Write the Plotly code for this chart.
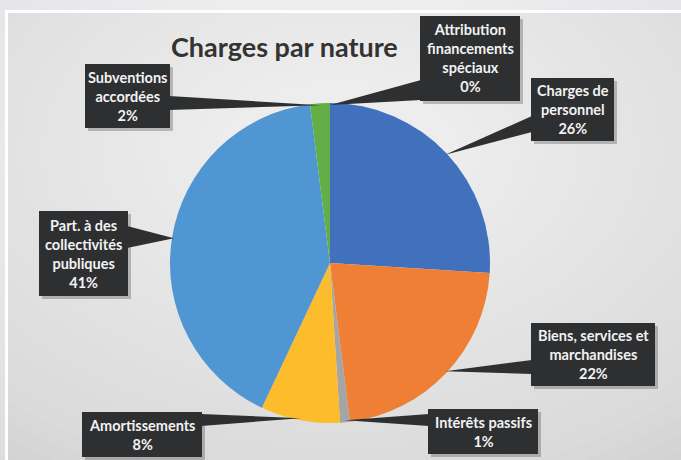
import math
import plotly.graph_objects as go

# ---- data ----
categories = ["Charges de personnel", "Biens, services et marchandises", "Intérêts passifs",
              "Amortissements", "Part. à des collectivités publiques", "Subventions accordées",
              "Attribution financements spéciaux"]
values = [26, 22, 1, 8, 41, 2, 0]
label_lines = [["Charges de", "personnel"], ["Biens, services et", "marchandises"], ["Intérêts passifs"],
               ["Amortissements"], ["Part. à des", "collectivités", "publiques"], ["Subventions", "accordées"],
               ["Attribution", "financements", "spéciaux"]]
colors = ["#4170BD", "#EE7F35", "#A5A5A5", "#FDBC2B", "#5096D3", "#64AE48", "#7A5FA8"]
title = "Charges par nature"

W, H = 681, 460
CX, CY, R = 330, 263, 160

def px(x):
    return x / W

def py(y):
    return 1 - y / H

# callout boxes (pixel layout): x0, y0, x1, y1, tail base points
boxes = [
    (531, 78, 614, 141, (532, 116), (532, 132)),
    (531, 323, 655, 386, (532, 360), (532, 374)),
    (428, 409, 538, 454, (429, 414), (429, 426)),
    (82, 412, 202, 457, (201, 414), (201, 426)),
    (39, 211, 128, 296, (127, 226), (127, 248)),
    (85, 64, 170, 128, (169, 96), (169, 110)),
    (420, 16, 520, 101, (421, 80), (421, 100)),
]

fig = go.Figure()
fig.add_trace(go.Pie(
    labels=categories, values=values, sort=False, direction="clockwise", rotation=0,
    marker=dict(colors=colors, line=dict(width=0)), textinfo="none", hoverinfo="label+percent",
    showlegend=False,
    domain=dict(x=[px(CX - R), px(CX + R)], y=[py(CY + R), py(CY - R)]),
))

shapes = []
# outer frame and panel
shapes.append(dict(type="rect", xref="paper", yref="paper", x0=px(5), x1=1.01, y0=-0.01, y1=py(10),
                   fillcolor="#ffffff", line=dict(width=0), layer="below"))
shapes.append(dict(type="rect", xref="paper", yref="paper", x0=px(8), x1=1.01, y0=-0.01, y1=py(13),
                   fillcolor="#d2d2d2", line=dict(width=0), layer="below"))
n = 24
for i in range(n):
    rx = 560 - i * 20
    ry = 380 - i * 14
    shapes.append(dict(type="circle", xref="paper", yref="paper",
                       x0=px(340 - rx), x1=px(340 + rx), y0=py(150 + ry), y1=py(150 - ry),
                       fillcolor="rgba(255,255,255,0.05)", line=dict(width=0), layer="below"))

annotations = []
total = sum(values)
cum = 0
for v, lines, box in zip(values, label_lines, boxes):
    mid = (cum + v / 2) / total
    cum += v
    ang = 2 * math.pi * mid
    tx = CX + (R - 2) * math.sin(ang)
    ty = CY - (R - 2) * math.cos(ang)
    x0, y0, x1, y1, b1, b2 = box
    # shadow
    shapes.append(dict(type="rect", xref="paper", yref="paper", x0=px(x0 + 3), x1=px(x1 + 3),
                       y0=py(y1 + 3), y1=py(y0 + 3), fillcolor="rgba(0,0,0,0.22)", line=dict(width=0)))
    # tail
    path = f"M {px(b1[0])},{py(b1[1])} L {px(tx)},{py(ty)} L {px(b2[0])},{py(b2[1])} Z"
    shapes.append(dict(type="path", xref="paper", yref="paper", path=path,
                       fillcolor="#2e2f31", line=dict(width=0)))
    # box
    shapes.append(dict(type="rect", xref="paper", yref="paper", x0=px(x0), x1=px(x1),
                       y0=py(y1), y1=py(y0), fillcolor="#2e2f31", line=dict(width=0)))
    pct = f"{round(v / total * 100)}%"
    text = "<br>".join(lines + [pct])
    annotations.append(dict(x=px((x0 + x1) / 2), y=py((y0 + y1) / 2), xref="paper", yref="paper",
                            text=text, showarrow=False, xanchor="center", yanchor="middle",
                            font=dict(family="Lato", size=14.5, color="#f2f2f2", weight="bold")))

annotations.append(dict(x=px(284), y=py(47), xref="paper", yref="paper", text=title, showarrow=False,
                        xanchor="center", yanchor="middle",
                        font=dict(family="Lato", size=27, color="#333333", weight="bold")))

fig.update_layout(
    width=W, height=H, margin=dict(l=0, r=0, t=0, b=0),
    paper_bgcolor="#dcdde0", plot_bgcolor="rgba(0,0,0,0)",
    shapes=shapes, annotations=annotations,
)
fig.write_html("out.html", config={"displayModeBar": False},
               post_script="document.body.style.margin='0';document.body.style.padding='0';")
